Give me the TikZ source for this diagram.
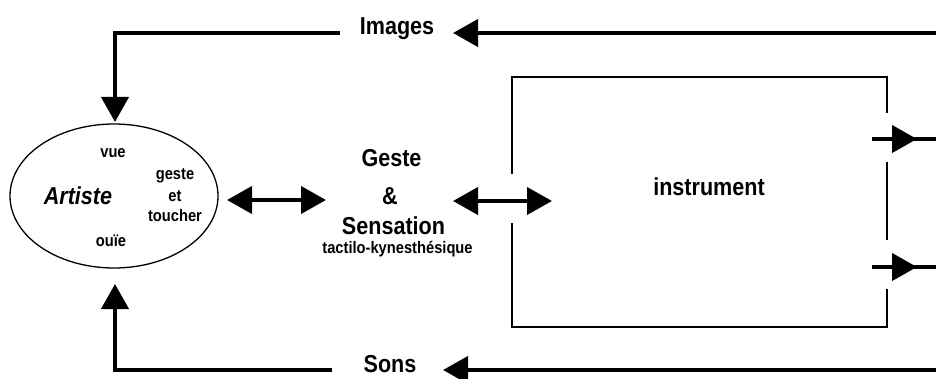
\documentclass[tikz,border=0pt]{standalone}
\usepackage{fontspec}
\setmainfont[FakeStretch=0.88]{Liberation Sans}
\usetikzlibrary{arrows.meta,shapes.geometric}
\begin{document}
\begin{tikzpicture}[x=1pt,y=-1pt,
  big/.style={font=\fontsize{24.5}{26}\selectfont\bfseries, inner sep=0pt, anchor=base},
  small/.style={font=\fontsize{16.7}{21}\selectfont\bfseries, inner sep=0pt, anchor=base},
  flow/.style={line width=4pt},
  tip/.style={-{Triangle[length=25pt,width=27pt]}},
  both/.style={{Triangle[length=25pt,width=27pt]}-{Triangle[length=25pt,width=27pt]}},
  boxline/.style={line width=2pt},
]
\useasboundingbox (0,0) rectangle (936,379);

% Artiste ellipse
\node[draw, ellipse, minimum width=208pt, minimum height=144pt, line width=1.3pt, inner sep=0pt] (artiste) at (114,196) {};
\node[big, font=\fontsize{24.5}{26}\selectfont\bfseries\itshape] (artisteLbl) at (78,205) {Artiste};
\node[small] (vue) at (113,158) {vue};
\node[small] (geste) at (175,180) {geste};
\node[small] (et) at (175,202) {et};
\node[small] (toucher) at (175,222) {toucher};
\node[small] (ouie) at (111,247) {ouïe};

% Geste & Sensation
\node[big] (gesteLbl) at (391.5,167) {Geste};
\node[big] (amp) at (390,205) {\&};
\node[big] (sensation) at (393.5,235) {Sensation};
\node[small] (tactilo) at (397.5,253) {tactilo-kynesthésique};

% instrument box
\draw[boxline] (512,174) -- (512,77) -- (887,77) -- (887,113);
\draw[boxline] (887,162) -- (887,240);
\draw[boxline] (887,289) -- (887,327) -- (512,327) -- (512,223);
\node[big] (instrument) at (709,196) {instrument};

% Images (top)
\node[big] (images) at (397,35) {Images};
\coordinate (imgR) at (936,33);
\coordinate (imgTip) at (453,33);
\coordinate (imgL) at (340,33);
\coordinate (imgC) at (115,33);
\coordinate (downTip) at (115,122);
\draw[flow, tip] (imgR) -- (imgTip);
\draw[flow, tip] (imgL) -- (imgC) -- (downTip);

% Sons (bottom)
\node[big] (sons) at (390,372) {Sons};
\coordinate (sonR) at (936,370);
\coordinate (sonTip) at (443,370);
\coordinate (sonL) at (332,370);
\coordinate (sonC) at (115,370);
\coordinate (upTip) at (115,284);
\draw[flow, tip] (sonR) -- (sonTip);
\draw[flow, tip] (sonL) -- (sonC) -- (upTip);

% double arrows
\coordinate (a1) at (227,200);
\coordinate (a2) at (326,200);
\coordinate (b1) at (453,201);
\coordinate (b2) at (552,201);
\draw[flow, both] (a1) -- (a2);
\draw[flow, both] (b1) -- (b2);

% outputs on the right
\coordinate (o1s) at (872,139);
\coordinate (o1t) at (917,139);
\coordinate (o1e) at (936,139);
\coordinate (o2s) at (872,267);
\coordinate (o2t) at (917,267);
\coordinate (o2e) at (936,267);
\draw[flow] (o1s) -- (o1e);
\draw[flow, tip] (o1s) -- (o1t);
\draw[flow] (o2s) -- (o2e);
\draw[flow, tip] (o2s) -- (o2t);
\end{tikzpicture}
\end{document}
